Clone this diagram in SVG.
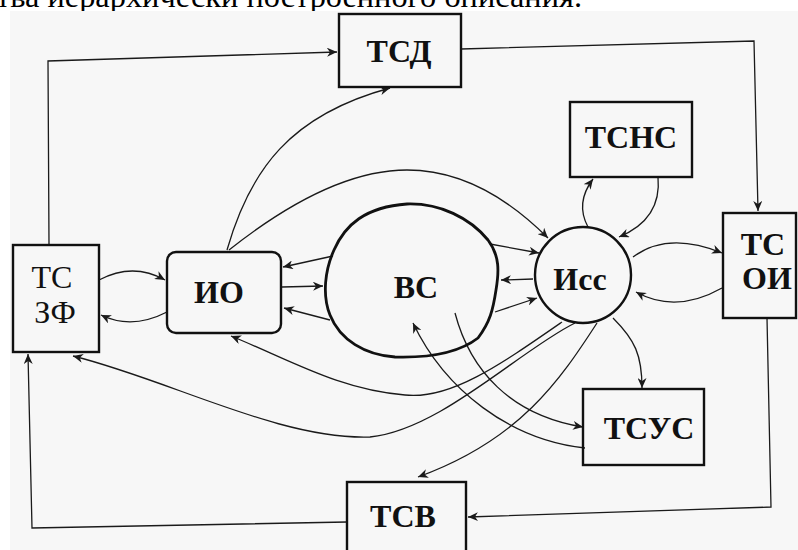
<svg xmlns="http://www.w3.org/2000/svg" width="798" height="550" viewBox="0 0 798 550">
  <defs>
    <marker id="arr" markerUnits="userSpaceOnUse" markerWidth="11" markerHeight="9" refX="10" refY="4.5" orient="auto">
      <path d="M0,0 L10,4.5 L0,9 L3,4.5 z" fill="#1a1a1a"/>
    </marker>
  </defs>
  <style>
    .bg { fill: #f7f7f7; }
    .box { fill: none; stroke: #111; stroke-width: 2.4; }
    .blob { fill: none; stroke: #111; stroke-width: 2.8; }
    .c { fill: none; stroke: #1a1a1a; stroke-width: 1.3; marker-end: url(#arr); }
    .lbl { font-family: "Liberation Serif", "Times New Roman", serif; font-size: 32px; font-weight: bold; fill: #111; text-anchor: middle; }
    .lbln { font-family: "Liberation Serif", "Times New Roman", serif; font-size: 32px; font-weight: normal; fill: #111; text-anchor: middle; }
    .cap { font-family: "Liberation Serif", "Times New Roman", serif; font-size: 31px; fill: #000; }
  </style>
  <rect x="0" y="0" width="798" height="550" fill="#ffffff"/>
  <text class="cap" x="-4" y="7" textLength="586" lengthAdjust="spacingAndGlyphs">тва иерархически построенного описания.</text>
  <rect class="bg" x="10" y="11" width="788" height="539"/>

  <g id="connectors">
    <polyline class="c" points="49,245 48,61 337,52"/>
    <polyline class="c" points="461,49 754,41 758,211"/>
    <polyline class="c" points="767,318 771,507 468,517"/>
    <polyline class="c" points="347,522 32,528 28,354"/>
    <path class="c" d="M99,280 Q133,262 165,280"/>
    <path class="c" d="M167,312 Q132,330 101,315"/>
    <path class="c" d="M333,256 L283,267"/>
    <path class="c" d="M282,287 L323,286"/>
    <path class="c" d="M330,320 L284,308"/>
    <path class="c" d="M227,250 C250,170 290,115 390,88"/>
    <path class="c" d="M229,250 Q330,170 407,170 Q480,170 548,238"/>
    <path class="c" d="M490,244 L539,253"/>
    <path class="c" d="M533,279 L501,280"/>
    <path class="c" d="M495,312 L537,298"/>
    <path class="c" d="M588,227 Q575,203 593,179"/>
    <path class="c" d="M658,177 Q662,219 619,237"/>
    <path class="c" d="M633,257 Q668,231 722,253"/>
    <path class="c" d="M722,288 Q676,314 636,292"/>
    <path class="c" d="M613,318 C635,340 642,355 642,388"/>
    <path class="c" d="M455,313 C470,370 510,415 583,427"/>
    <path class="c" d="M585,448 C510,440 445,390 413,323"/>
    <path class="c" d="M562,322 C500,365 450,400 405,395 C340,390 290,360 231,336"/>
    <path class="c" d="M575,323 C520,350 440,430 370,437 C280,440 170,380 73,356"/>
    <path class="c" d="M597,323 C560,380 520,440 418,477"/>
  </g>

  <g id="tsd">
    <rect class="box" x="339" y="14" width="122" height="73"/>
    <text class="lbl" x="399" y="62">ТСД</text>
  </g>
  <g id="tsns">
    <rect class="box" x="570" y="102" width="122" height="75"/>
    <text class="lbl" x="631" y="148">ТСНС</text>
  </g>
  <g id="tsoi">
    <rect class="box" x="723" y="213" width="73" height="105"/>
    <text class="lbl" x="763" y="255">ТС</text>
    <text class="lbl" x="767" y="289">ОИ</text>
  </g>
  <g id="tszf">
    <rect class="box" x="13" y="245" width="86" height="107"/>
    <text class="lbln" x="52" y="288">ТС</text>
    <text class="lbln" x="55" y="323">ЗФ</text>
  </g>
  <g id="io">
    <rect class="box" x="167" y="252" width="114" height="81" rx="9"/>
    <text class="lbl" x="219" y="303">ИО</text>
  </g>
  <g id="vs">
    <path class="blob" d="M407,204 C440,203 470,218 488,240 C500,256 499,272 496,290 C493,310 490,322 478,338 C460,352 430,358 395,357 C365,355 340,340 330,315 C322,295 325,270 334,250 C345,225 365,207 407,204 Z"/>
    <text class="lbl" x="416" y="298">ВС</text>
  </g>
  <g id="iss">
    <circle class="box" cx="583" cy="275" r="48"/>
    <text class="lbl" x="580" y="290">Исс</text>
  </g>
  <g id="tsus">
    <rect class="box" x="583" y="389" width="121" height="76"/>
    <text class="lbl" x="649" y="439">ТСУС</text>
  </g>
  <g id="tsv">
    <rect class="box" x="347" y="482" width="119" height="80"/>
    <text class="lbl" x="403" y="527">ТСВ</text>
  </g>
</svg>
